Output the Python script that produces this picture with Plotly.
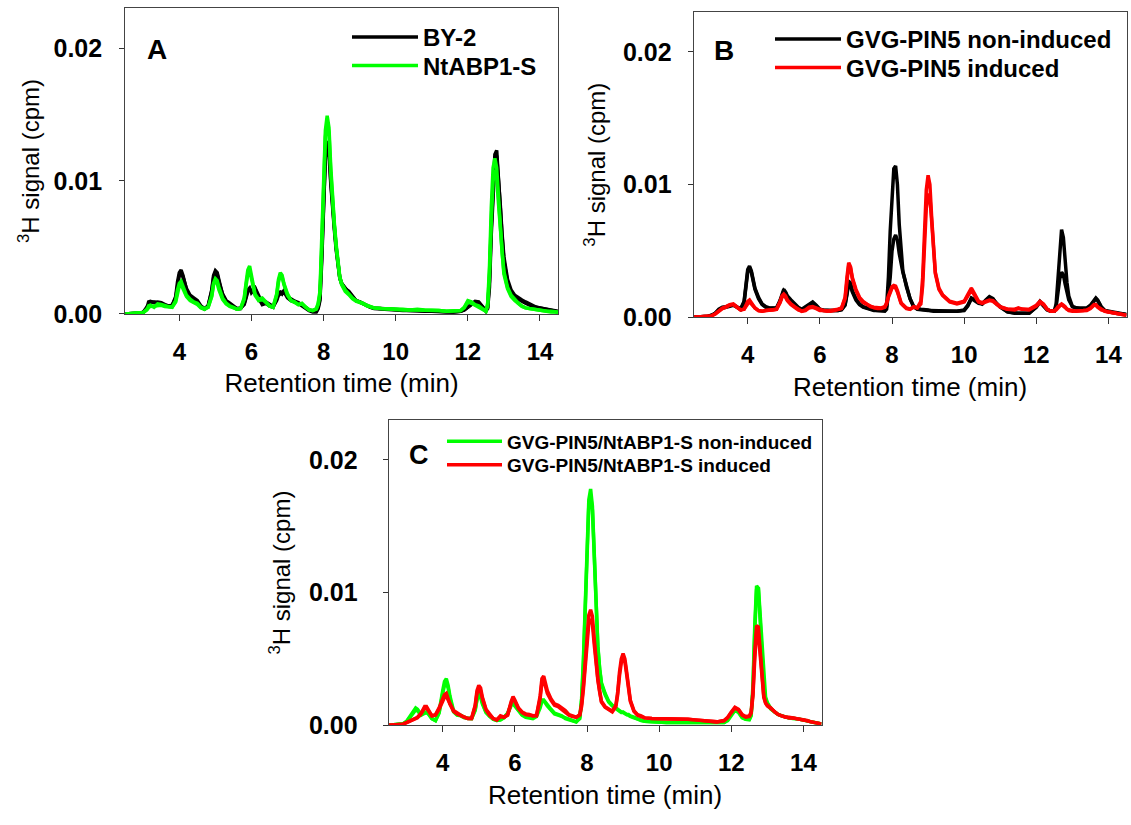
import numpy as np
import plotly.graph_objects as go

# ---------------- DATA (signal values in units of 1e-3 cpm) ----------------
# Panel A
xA = [2.5, 2.7, 2.9, 3.0, 3.1, 3.15, 3.2, 3.3, 3.4, 3.5,
      3.6, 3.7, 3.8, 3.9, 3.95, 4.0, 4.05, 4.1, 4.2, 4.3,
      4.4, 4.5, 4.6, 4.7, 4.8, 4.9, 4.95, 5.0, 5.05, 5.1,
      5.2, 5.3, 5.4, 5.5, 5.6, 5.7, 5.8, 5.85, 5.9, 5.95,
      6.0, 6.1, 6.2, 6.3, 6.4, 6.5, 6.6, 6.7, 6.75, 6.8,
      6.85, 6.9, 7.0, 7.1, 7.2, 7.3, 7.4, 7.5, 7.6, 7.7,
      7.8, 7.85, 7.9, 7.95, 8.0, 8.05, 8.1, 8.15, 8.2, 8.25,
      8.3, 8.35, 8.4, 8.45, 8.5, 8.6, 8.7, 8.8, 8.9, 9.0,
      9.1, 9.2, 9.3, 9.4, 9.6, 9.8, 10.0, 10.2, 10.4, 10.6,
      10.8, 11.0, 11.2, 11.4, 11.6, 11.8, 11.9, 12.0, 12.1, 12.2,
      12.3, 12.4, 12.5, 12.55, 12.6, 12.65, 12.7, 12.75, 12.8, 12.85,
      12.9, 12.95, 13.0, 13.1, 13.2, 13.3, 13.4, 13.5, 13.6, 13.7,
      13.8, 13.9, 14.0, 14.1, 14.2, 14.3, 14.4, 14.5]
by2_r1 = [0, 0.02, 0.05, 0.1, 0.4, 0.9, 0.95, 0.85, 0.9, 0.85,
          0.7, 0.6, 0.6, 1.3, 2.4, 3.1, 3.3, 2.9, 1.8, 1.3,
          1.1, 0.9, 0.5, 0.35, 0.6, 1.8, 2.9, 3.25, 3.1, 2.5,
          1.4, 0.9, 0.7, 0.5, 0.35, 0.4, 0.8, 1.3, 1.8, 1.95,
          1.6, 1.9, 1.2, 0.7, 0.8, 0.6, 0.5, 1.1, 1.6, 1.65,
          1.5, 1.7, 1.2, 1.0, 0.9, 0.8, 0.6, 0.4, 0.25, 0.15,
          0.15, 0.4, 1.0, 4.0, 8.5, 11.8, 13.0, 12.5, 10.0, 8.0,
          6.5, 5.0, 3.6, 2.7, 2.3, 1.9, 1.7, 1.3, 1.0, 0.9,
          0.75, 0.6, 0.5, 0.4, 0.35, 0.3, 0.3, 0.25, 0.25, 0.2,
          0.2, 0.2, 0.15, 0.15, 0.15, 0.2, 0.3, 0.5, 0.7, 0.9,
          0.85, 0.5, 0.2, 0.5, 2.5, 6.5, 10.0, 12.0, 12.3, 10.5,
          8.0, 5.8, 4.0, 2.4, 1.6, 1.3, 1.1, 0.95, 0.8, 0.65,
          0.55, 0.5, 0.45, 0.4, 0.35, 0.3, 0.2, 0.15]
by2_r2 = [0, 0.02, 0.05, 0.12, 0.5, 0.8, 0.9, 0.9, 0.8, 0.75,
          0.65, 0.6, 0.65, 1.2, 2.2, 2.9, 3.1, 2.8, 1.9, 1.4,
          1.2, 1.0, 0.6, 0.4, 0.6, 1.7, 2.7, 3.1, 3.0, 2.4,
          1.5, 1.0, 0.8, 0.6, 0.4, 0.45, 0.7, 1.2, 1.7, 1.85,
          1.7, 1.95, 1.4, 0.8, 0.9, 0.7, 0.55, 1.0, 1.4, 1.5,
          1.6, 1.75, 1.3, 1.1, 0.95, 0.85, 0.65, 0.45, 0.3, 0.2,
          0.2, 0.5, 1.2, 4.5, 9.0, 11.8, 12.4, 12.0, 9.8, 7.8,
          6.3, 4.8, 3.5, 2.7, 2.3, 1.9, 1.6, 1.3, 1.0, 0.9,
          0.75, 0.6, 0.5, 0.45, 0.4, 0.35, 0.3, 0.3, 0.25, 0.25,
          0.2, 0.2, 0.2, 0.15, 0.15, 0.2, 0.3, 0.5, 0.75, 0.95,
          0.9, 0.6, 0.25, 0.4, 2.0, 6.0, 9.6, 11.5, 11.9, 10.4,
          8.2, 6.0, 4.3, 2.6, 1.8, 1.4, 1.2, 1.05, 0.9, 0.75,
          0.6, 0.5, 0.45, 0.4, 0.35, 0.3, 0.25, 0.2]
ntabp_r1 = [0, 0.02, 0.05, 0.1, 0.3, 0.5, 0.65, 0.5, 0.75, 0.7,
            0.6, 0.55, 0.5, 1.0, 1.8, 2.3, 2.45, 2.1, 1.4, 1.1,
            0.9, 0.8, 0.5, 0.4, 0.5, 1.4, 2.3, 2.65, 2.5, 2.0,
            1.2, 0.8, 0.6, 0.5, 0.35, 0.4, 1.2, 2.3, 3.3, 3.6,
            2.9, 1.5, 1.1, 1.2, 0.9, 0.6, 0.5, 1.5, 2.6, 3.1,
            2.9, 2.3, 1.5, 1.0, 0.9, 0.7, 0.8, 0.5, 0.3, 0.25,
            0.4, 0.8, 1.7, 5.5, 10.5, 13.8, 14.9, 14.0, 11.0, 8.5,
            6.8, 5.2, 3.8, 2.8, 2.3, 1.8, 1.5, 1.2, 1.0, 0.9,
            0.8, 0.6, 0.5, 0.45, 0.4, 0.4, 0.35, 0.35, 0.3, 0.35,
            0.3, 0.3, 0.25, 0.2, 0.2, 0.25, 0.5, 1.0, 0.9, 0.7,
            0.6, 0.4, 0.2, 0.8, 3.5, 8.0, 11.0, 11.7, 11.0, 8.8,
            6.5, 4.6, 3.2, 2.0, 1.4, 1.1, 0.8, 0.6, 0.45, 0.4,
            0.35, 0.3, 0.3, 0.25, 0.2, 0.2, 0.15, 0.15]
ntabp_r2 = [0, 0.02, 0.05, 0.1, 0.35, 0.6, 0.55, 0.6, 0.65, 0.65,
            0.55, 0.5, 0.5, 0.9, 1.6, 2.1, 2.2, 1.9, 1.3, 1.0,
            0.85, 0.7, 0.45, 0.35, 0.5, 1.3, 2.2, 2.5, 2.3, 1.8,
            1.1, 0.75, 0.55, 0.45, 0.35, 0.4, 1.1, 2.1, 3.0, 3.3,
            2.7, 1.4, 1.0, 1.1, 0.85, 0.6, 0.5, 1.4, 2.4, 2.9,
            2.8, 2.2, 1.4, 1.0, 0.85, 0.7, 0.75, 0.5, 0.3, 0.25,
            0.35, 0.7, 1.5, 5.0, 10.0, 13.3, 14.4, 13.6, 10.6, 8.2,
            6.6, 5.0, 3.6, 2.7, 2.2, 1.7, 1.45, 1.15, 0.95, 0.85,
            0.75, 0.6, 0.5, 0.45, 0.4, 0.35, 0.35, 0.3, 0.3, 0.3,
            0.3, 0.25, 0.25, 0.2, 0.2, 0.25, 0.45, 0.9, 0.8, 0.65,
            0.55, 0.35, 0.2, 0.6, 3.0, 7.0, 10.0, 10.8, 10.3, 8.3,
            6.2, 4.4, 3.0, 1.9, 1.3, 1.0, 0.75, 0.55, 0.45, 0.4,
            0.35, 0.3, 0.25, 0.2, 0.2, 0.15, 0.15, 0.1]

# Panel B
xB = [2.5, 2.7, 2.9, 3.0, 3.1, 3.2, 3.3, 3.4, 3.5, 3.6,
      3.7, 3.8, 3.9, 3.95, 4.0, 4.05, 4.1, 4.2, 4.3, 4.4,
      4.5, 4.6, 4.7, 4.8, 4.9, 4.95, 5.0, 5.05, 5.1, 5.2,
      5.3, 5.4, 5.5, 5.6, 5.7, 5.8, 5.9, 6.0, 6.1, 6.2,
      6.3, 6.4, 6.5, 6.6, 6.7, 6.75, 6.8, 6.85, 6.9, 7.0,
      7.1, 7.2, 7.3, 7.4, 7.5, 7.6, 7.7, 7.8, 7.85, 7.9,
      7.95, 8.0, 8.05, 8.1, 8.15, 8.2, 8.25, 8.3, 8.35, 8.4,
      8.5, 8.6, 8.7, 8.8, 8.85, 8.9, 8.95, 9.0, 9.05, 9.1,
      9.15, 9.2, 9.3, 9.4, 9.5, 9.6, 9.8, 10.0, 10.1, 10.2,
      10.3, 10.4, 10.5, 10.6, 10.7, 10.8, 10.9, 11.0, 11.2, 11.4,
      11.5, 11.6, 11.8, 12.0, 12.1, 12.2, 12.3, 12.4, 12.5, 12.55,
      12.6, 12.65, 12.7, 12.75, 12.8, 12.85, 12.9, 13.0, 13.1, 13.2,
      13.3, 13.4, 13.5, 13.6, 13.65, 13.7, 13.8, 13.9, 14.0, 14.1,
      14.2, 14.3, 14.4, 14.5]
pin5_non_r1 = [0, 0.02, 0.08, 0.15, 0.3, 0.6, 0.75, 0.8, 0.85, 0.95,
               0.8, 0.6, 1.2, 2.6, 3.6, 3.85, 3.5, 2.2, 1.5, 1.0,
               0.8, 0.7, 0.7, 0.7, 1.3, 1.8, 2.1, 1.9, 1.6, 1.3,
               1.0, 0.75, 0.6, 0.8, 1.0, 1.15, 0.9, 0.6, 0.55, 0.5,
               0.5, 0.5, 0.5, 0.6, 1.0, 1.8, 2.7, 2.6, 2.0, 1.4,
               1.0, 0.8, 0.7, 0.6, 0.55, 0.5, 0.5, 0.5, 0.8, 3.0,
               6.5, 9.5, 11.2, 11.4, 10.0, 7.0, 4.8, 3.5, 2.9, 2.4,
               1.4, 0.8, 0.65, 0.6, 0.6, 0.55, 0.55, 0.55, 0.5, 0.5,
               0.5, 0.5, 0.45, 0.45, 0.5, 0.45, 0.45, 0.55, 0.9, 1.45,
               1.3, 1.1, 1.0, 1.3, 1.55, 1.4, 1.0, 0.8, 0.4, 0.3,
               0.3, 0.3, 0.3, 0.8, 1.2, 0.9, 0.6, 0.45, 0.5, 1.0,
               3.0, 5.5, 6.6, 6.0, 4.2, 2.6, 1.6, 0.8, 0.7, 0.7,
               0.65, 0.7, 0.9, 1.3, 1.45, 1.3, 0.8, 0.5, 0.45, 0.35,
               0.3, 0.25, 0.2, 0.2]
pin5_non_r2 = [0, 0.02, 0.08, 0.15, 0.3, 0.55, 0.7, 0.75, 0.8, 0.9,
               0.75, 0.6, 1.1, 2.4, 3.4, 3.7, 3.4, 2.1, 1.4, 0.95,
               0.75, 0.65, 0.65, 0.7, 1.2, 1.7, 2.0, 1.85, 1.5, 1.2,
               0.95, 0.7, 0.55, 0.75, 0.95, 1.1, 0.85, 0.55, 0.5, 0.5,
               0.45, 0.45, 0.5, 0.55, 0.9, 1.7, 2.5, 2.4, 1.9, 1.3,
               0.95, 0.75, 0.65, 0.55, 0.5, 0.5, 0.45, 0.45, 0.6, 1.6,
               3.0, 5.0, 5.9, 6.2, 5.8, 4.8, 4.0, 3.4, 2.9, 2.3,
               1.4, 0.8, 0.6, 0.55, 0.55, 0.5, 0.5, 0.5, 0.5, 0.45,
               0.45, 0.45, 0.45, 0.4, 0.45, 0.45, 0.45, 0.5, 0.85, 1.4,
               1.25, 1.05, 1.0, 1.25, 1.5, 1.35, 1.0, 0.75, 0.4, 0.3,
               0.3, 0.3, 0.3, 0.75, 1.15, 0.85, 0.55, 0.45, 0.45, 0.8,
               1.8, 2.9, 3.4, 3.2, 2.5, 1.8, 1.3, 0.8, 0.7, 0.65,
               0.6, 0.65, 0.85, 1.25, 1.4, 1.25, 0.75, 0.5, 0.4, 0.35,
               0.3, 0.25, 0.2, 0.2]
pin5_ind_r1 = [0, 0.02, 0.05, 0.1, 0.25, 0.5, 0.7, 0.8, 0.95, 1.0,
               0.8, 0.55, 0.6, 0.9, 1.2, 1.3, 1.1, 0.7, 0.5, 0.45,
               0.5, 0.55, 0.55, 0.6, 1.2, 1.6, 1.75, 1.6, 1.3, 1.0,
               0.8, 0.6, 0.45, 0.55, 0.75, 0.8, 0.7, 0.55, 0.5, 0.45,
               0.5, 0.5, 0.6, 0.7, 1.5, 3.0, 4.1, 3.8, 3.0, 2.1,
               1.5, 1.2, 1.0, 0.8, 0.75, 0.7, 0.7, 0.8, 1.1, 1.6,
               2.0, 2.3, 2.4, 2.35, 2.0, 1.5, 1.1, 0.95, 0.8, 0.7,
               0.6, 0.8, 0.7, 1.2, 3.0, 6.5, 9.6, 10.7, 10.0, 7.5,
               5.0, 3.4, 2.2, 1.7, 1.45, 1.2, 1.05, 1.2, 1.7, 2.2,
               1.7, 1.2, 1.1, 1.2, 1.3, 1.25, 1.0, 0.8, 0.6, 0.6,
               0.7, 0.6, 0.6, 0.9, 1.2, 1.0, 0.6, 0.45, 0.5, 0.6,
               0.8, 0.9, 1.0, 0.9, 0.8, 0.6, 0.55, 0.5, 0.45, 0.45,
               0.5, 0.55, 0.7, 0.95, 0.95, 0.8, 0.6, 0.45, 0.4, 0.35,
               0.3, 0.25, 0.2, 0.15]
pin5_ind_r2 = [0, 0.02, 0.05, 0.1, 0.25, 0.45, 0.65, 0.75, 0.9, 0.95,
               0.75, 0.55, 0.6, 0.8, 1.1, 1.2, 1.0, 0.7, 0.5, 0.45,
               0.5, 0.5, 0.55, 0.6, 1.1, 1.5, 1.65, 1.5, 1.25, 0.95,
               0.75, 0.55, 0.45, 0.5, 0.7, 0.75, 0.65, 0.5, 0.5, 0.45,
               0.45, 0.5, 0.55, 0.65, 1.4, 2.8, 3.9, 3.7, 2.9, 2.0,
               1.4, 1.1, 0.95, 0.8, 0.7, 0.65, 0.65, 0.75, 1.0, 1.5,
               1.9, 2.2, 2.3, 2.2, 1.9, 1.4, 1.05, 0.9, 0.75, 0.65,
               0.6, 0.75, 0.7, 1.0, 2.4, 5.5, 8.2, 9.2, 9.1, 7.2,
               4.9, 3.3, 2.1, 1.65, 1.4, 1.15, 1.0, 1.15, 1.6, 2.05,
               1.6, 1.15, 1.05, 1.15, 1.25, 1.2, 0.95, 0.75, 0.6, 0.55,
               0.65, 0.6, 0.55, 0.85, 1.1, 0.95, 0.6, 0.45, 0.45, 0.55,
               0.75, 0.85, 0.95, 0.85, 0.75, 0.6, 0.5, 0.45, 0.45, 0.45,
               0.45, 0.5, 0.65, 0.9, 0.9, 0.75, 0.55, 0.45, 0.4, 0.35,
               0.3, 0.25, 0.2, 0.15]

# Panel C
xC = [2.5, 2.7, 2.9, 3.0, 3.1, 3.2, 3.25, 3.3, 3.4, 3.5,
      3.55, 3.6, 3.7, 3.8, 3.9, 4.0, 4.05, 4.1, 4.15, 4.2,
      4.3, 4.4, 4.5, 4.6, 4.7, 4.8, 4.9, 4.95, 5.0, 5.05,
      5.1, 5.2, 5.3, 5.4, 5.5, 5.6, 5.7, 5.8, 5.9, 5.95,
      6.0, 6.1, 6.2, 6.3, 6.4, 6.5, 6.6, 6.7, 6.75, 6.8,
      6.9, 7.0, 7.1, 7.2, 7.3, 7.4, 7.5, 7.6, 7.7, 7.8,
      7.85, 7.9, 7.95, 8.0, 8.05, 8.1, 8.15, 8.2, 8.25, 8.3,
      8.35, 8.4, 8.5, 8.6, 8.7, 8.8, 8.85, 8.9, 8.95, 9.0,
      9.05, 9.1, 9.15, 9.2, 9.3, 9.4, 9.5, 9.6, 9.8, 10.0,
      10.2, 10.4, 10.6, 10.8, 11.0, 11.2, 11.4, 11.6, 11.8, 11.9,
      12.0, 12.1, 12.2, 12.3, 12.4, 12.5, 12.55, 12.6, 12.65, 12.7,
      12.75, 12.8, 12.85, 12.9, 12.95, 13.0, 13.1, 13.2, 13.3, 13.4,
      13.5, 13.6, 13.7, 13.8, 13.9, 14.0, 14.1, 14.2, 14.3, 14.4,
      14.5]
dbl_non_r1 = [0, 0.02, 0.1, 0.3, 0.7, 1.2, 1.3, 1.2, 0.8, 1.0,
              1.0, 0.9, 0.5, 0.35, 1.0, 2.6, 3.3, 3.5, 3.0, 2.2,
              1.1, 0.8, 0.75, 0.6, 0.5, 0.5, 1.2, 2.0, 2.4, 2.2,
              1.7, 1.0, 0.7, 0.45, 0.35, 0.4, 0.6, 0.9, 1.6, 1.8,
              1.5, 1.1, 0.8, 0.65, 0.6, 0.55, 0.7, 1.4, 1.9, 1.9,
              1.5, 1.2, 0.9, 0.8, 0.7, 0.5, 0.4, 0.3, 0.25, 0.6,
              2.0, 5.0, 9.5, 14.5, 17.0, 17.8, 16.5, 13.0, 9.0, 6.0,
              4.3, 3.2, 2.4, 1.8, 1.5, 1.3, 1.2, 1.1, 1.0, 1.0,
              0.9, 0.8, 0.8, 0.7, 0.6, 0.45, 0.35, 0.3, 0.25, 0.2,
              0.2, 0.2, 0.2, 0.2, 0.2, 0.15, 0.15, 0.15, 0.2, 0.4,
              0.8, 1.2, 1.0, 0.6, 0.45, 0.45, 0.8, 3.0, 7.5, 10.5,
              10.3, 8.0, 5.2, 3.0, 2.0, 1.6, 1.2, 1.0, 0.8, 0.7,
              0.6, 0.55, 0.55, 0.5, 0.45, 0.4, 0.35, 0.25, 0.2, 0.15,
              0.1]
dbl_non_r2 = [0, 0.02, 0.1, 0.25, 0.6, 1.0, 1.15, 1.1, 0.75, 0.9,
              0.95, 0.85, 0.5, 0.35, 0.9, 2.4, 3.0, 3.2, 2.8, 2.0,
              1.0, 0.75, 0.7, 0.55, 0.5, 0.5, 1.1, 1.9, 2.3, 2.1,
              1.6, 0.95, 0.65, 0.45, 0.35, 0.4, 0.55, 0.85, 1.5, 1.7,
              1.45, 1.05, 0.75, 0.6, 0.55, 0.5, 0.65, 1.3, 1.8, 1.85,
              1.45, 1.15, 0.85, 0.75, 0.65, 0.5, 0.4, 0.3, 0.25, 0.5,
              1.8, 4.6, 9.0, 14.0, 16.6, 17.3, 16.2, 12.8, 8.8, 5.9,
              4.2, 3.1, 2.3, 1.75, 1.45, 1.25, 1.15, 1.05, 0.95, 0.95,
              0.85, 0.8, 0.75, 0.65, 0.55, 0.45, 0.35, 0.3, 0.25, 0.2,
              0.2, 0.2, 0.2, 0.2, 0.15, 0.15, 0.15, 0.15, 0.2, 0.35,
              0.75, 1.1, 0.95, 0.55, 0.45, 0.4, 0.7, 2.6, 7.0, 10.2,
              10.4, 8.3, 5.5, 3.2, 2.1, 1.7, 1.25, 1.0, 0.8, 0.7,
              0.6, 0.55, 0.5, 0.5, 0.45, 0.4, 0.3, 0.25, 0.2, 0.15,
              0.1]
dbl_ind_r1 = [0, 0.02, 0.08, 0.2, 0.35, 0.45, 0.5, 0.6, 0.9, 1.4,
              1.4, 1.2, 0.7, 0.8, 1.3, 2.0, 2.3, 2.4, 2.0, 1.6,
              1.1, 0.9, 0.75, 0.6, 0.5, 0.5, 1.5, 2.6, 3.0, 2.8,
              2.1, 1.2, 0.8, 0.5, 0.4, 0.7, 0.6, 0.8, 1.8, 2.15,
              1.9, 1.3, 1.0, 0.85, 0.8, 0.7, 0.75, 2.2, 3.5, 3.7,
              2.6, 2.0, 1.6, 1.5, 1.3, 1.1, 0.8, 0.7, 0.6, 0.8,
              1.6, 3.0, 5.0, 7.0, 8.3, 8.7, 8.2, 6.5, 4.8, 3.5,
              2.6, 1.8, 1.4, 1.2, 1.05, 1.5, 2.5, 4.0, 5.0, 5.4,
              5.0, 4.0, 2.8, 1.9, 1.1, 0.8, 0.7, 0.55, 0.5, 0.5,
              0.5, 0.5, 0.5, 0.45, 0.4, 0.35, 0.3, 0.25, 0.35, 0.6,
              1.0, 1.35, 1.2, 0.8, 0.65, 0.7, 1.0, 2.5, 5.5, 7.5,
              7.4, 5.5, 3.6, 2.2, 1.7, 1.5, 1.3, 1.0, 0.8, 0.7,
              0.6, 0.6, 0.55, 0.55, 0.5, 0.4, 0.35, 0.25, 0.2, 0.15,
              0.1]
dbl_ind_r2 = [0, 0.02, 0.08, 0.2, 0.3, 0.4, 0.45, 0.55, 0.85, 1.3,
              1.3, 1.1, 0.7, 0.75, 1.2, 1.8, 2.1, 2.2, 1.9, 1.5,
              1.05, 0.85, 0.7, 0.6, 0.5, 0.5, 1.4, 2.4, 2.8, 2.6,
              2.0, 1.15, 0.75, 0.5, 0.4, 0.65, 0.6, 0.75, 1.7, 2.0,
              1.8, 1.25, 0.95, 0.8, 0.75, 0.7, 0.7, 2.0, 3.2, 3.4,
              2.4, 1.9, 1.5, 1.4, 1.2, 1.0, 0.75, 0.65, 0.6, 0.75,
              1.4, 2.7, 4.6, 6.5, 7.7, 8.0, 7.6, 6.1, 4.6, 3.4,
              2.5, 1.75, 1.35, 1.15, 1.0, 1.4, 2.3, 3.7, 4.7, 5.1,
              4.8, 3.8, 2.7, 1.8, 1.05, 0.75, 0.65, 0.55, 0.5, 0.5,
              0.5, 0.45, 0.45, 0.45, 0.4, 0.35, 0.3, 0.25, 0.35, 0.55,
              0.95, 1.3, 1.15, 0.75, 0.6, 0.65, 0.9, 2.2, 5.0, 7.0,
              6.9, 5.2, 3.4, 2.1, 1.65, 1.45, 1.25, 1.0, 0.8, 0.7,
              0.6, 0.55, 0.55, 0.5, 0.45, 0.4, 0.35, 0.25, 0.2, 0.15,
              0.1]

x_ticks = [4, 6, 8, 10, 12, 14]
y_ticks = [0.0, 0.01, 0.02]
y_ticklabels = ["0.00", "0.01", "0.02"]

BLACK, GREEN, RED = "#000000", "#00ff00", "#ff0000"
FONT = "Liberation Sans, Arial, sans-serif"

# (y-values, colour, legend name, legend id or None)
panels = {
    "A": (xA, [(by2_r1, BLACK, "BY-2", "legend"), (by2_r2, BLACK, "BY-2", None),
               (ntabp_r1, GREEN, "NtABP1-S", "legend2"), (ntabp_r2, GREEN, "NtABP1-S", None)]),
    "B": (xB, [(pin5_non_r1, BLACK, "GVG-PIN5 non-induced", "legend3"), (pin5_non_r2, BLACK, "GVG-PIN5 non-induced", None),
               (pin5_ind_r1, RED, "GVG-PIN5 induced", "legend4"), (pin5_ind_r2, RED, "GVG-PIN5 induced", None)]),
    "C": (xC, [(dbl_non_r1, GREEN, "GVG-PIN5/NtABP1-S non-induced", "legend5"), (dbl_non_r2, GREEN, "GVG-PIN5/NtABP1-S non-induced", None),
               (dbl_ind_r1, RED, "GVG-PIN5/NtABP1-S induced", "legend6"), (dbl_ind_r2, RED, "GVG-PIN5/NtABP1-S induced", None)]),
}
axis_ids = {"A": ("x", "y"), "B": ("x2", "y2"), "C": ("x3", "y3")}

fig = go.Figure()
for key, (xs, series) in panels.items():
    xa, ya = axis_ids[key]
    for ys, col, name, lg in series:
        assert len(ys) == len(xs), (key, name, len(ys), len(xs))
        fig.add_trace(go.Scatter(
            x=xs, y=np.array(ys) * 1e-3, mode="lines", name=name,
            line=dict(color=col, width=3.5), showlegend=lg is not None,
            legend=lg if lg else "legend",
            xaxis=xa, yaxis=ya, hoverinfo="skip"))

W, H = 1131, 825

domains = {
    "A": ([125.2 / W, 558 / W], [1 - 319.3 / H, 1 - 8.3 / H]),
    "B": ([693.6 / W, 1126.5 / W], [1 - 322.7 / H, 1 - 12.3 / H]),
    "C": ([388.6 / W, 821.5 / W], [1 - 737.7 / H, 1 - 427.2 / H]),
}

layout = dict(width=W, height=H, margin=dict(l=0, r=0, t=0, b=0),
              paper_bgcolor="white", plot_bgcolor="white",
              font=dict(family=FONT, color="black"))

ylab_standoff = {"A": 12, "B": 11, "C": 20}
ytitle_standoff = {"A": 7, "B": 10, "C": 11}
for i, key in enumerate(["A", "B", "C"]):
    sfx = "" if i == 0 else str(i + 1)
    xd, yd = domains[key]
    layout["xaxis" + sfx] = dict(
        domain=xd, range=[2.5, 14.5], tickvals=x_ticks, ticks="outside", ticklen=6,
        tickcolor="#333", showline=True, linecolor="#444", linewidth=1, mirror=True,
        showgrid=False, zeroline=False, anchor="y" + sfx,
        tickfont=dict(size=24, weight="bold", family=FONT), ticklabelstandoff=10,
        title=dict(text="Retention time (min)", font=dict(size=26, family=FONT), standoff=10))
    layout["yaxis" + sfx] = dict(
        domain=yd, range=[0, 0.023], tickvals=y_ticks, ticktext=y_ticklabels,
        ticks="outside", ticklen=5, tickcolor="#333",
        showline=True, linecolor="#444", linewidth=1, mirror=True,
        showgrid=False, zeroline=False, anchor="x" + sfx,
        tickfont=dict(size=25, weight="bold", family=FONT), ticklabelstandoff=ylab_standoff[key],
        title=dict(text="<sup>3</sup>H signal (cpm)", font=dict(size=24, family=FONT),
                   standoff=ytitle_standoff[key]))

def legend_box(x_px, yc_px, size, itemwidth):
    return dict(x=x_px / W, y=1 - yc_px / H, xanchor="left", yanchor="middle",
                bgcolor="rgba(0,0,0,0)", borderwidth=0,
                font=dict(size=size, weight="bold", family=FONT),
                itemwidth=itemwidth)

layout["legend"] = legend_box(347, 38, 24, 66)
layout["legend2"] = legend_box(347, 67, 24, 66)
layout["legend3"] = legend_box(770, 40, 24, 66)
layout["legend4"] = legend_box(770, 69, 24, 66)
layout["legend5"] = legend_box(442, 449, 19, 55)
layout["legend6"] = legend_box(442, 473, 19, 55)

letters = [("A", 157, 50, 28), ("B", 724, 51, 28), ("C", 419, 463, 27)]
layout["annotations"] = [dict(text=t, x=xp / W, y=1 - yp / H, xref="paper", yref="paper",
                              xanchor="center", yanchor="middle", showarrow=False,
                              font=dict(size=s, weight="bold", family=FONT))
                         for t, xp, yp, s in letters]

fig.update_layout(**layout)
fig.write_html("out.html", config={"displayModeBar": False},
               post_script="document.body.style.margin='0';document.body.style.overflow='hidden';")
